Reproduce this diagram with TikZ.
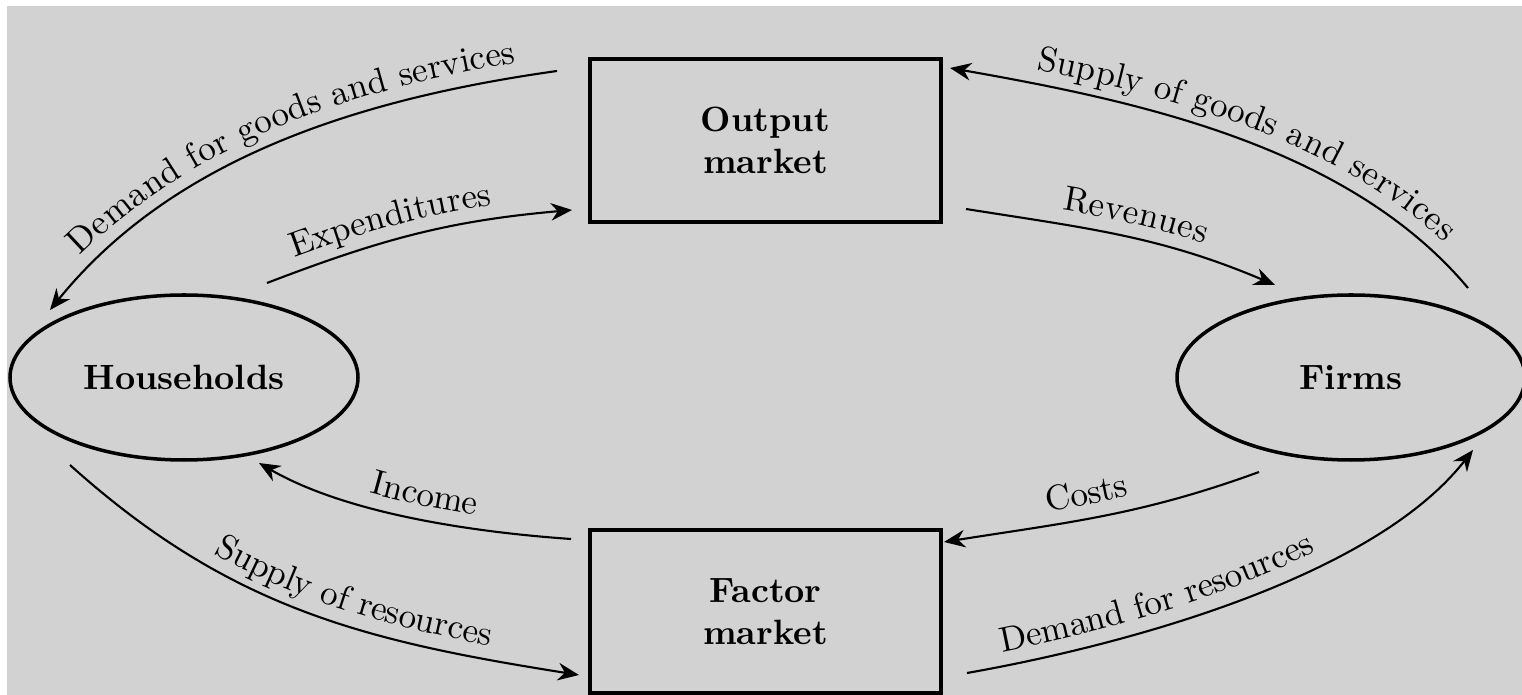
\documentclass[tikz,border=0pt]{standalone}
\usetikzlibrary{shapes,arrows.meta,decorations.text}

\definecolor{panel}{RGB}{210,210,210}

\tikzset{
  market/.style={rectangle, draw, line width=1.1pt, minimum width=35.1mm, minimum height=16.3mm, align=center, font=\bfseries},
  sector/.style={ellipse, draw, line width=1pt, minimum width=34.8mm, minimum height=16.5mm, inner sep=0pt, font=\bfseries},
  flow/.style={line width=0.6pt},
  flowtext/.style 2 args={postaction={decorate, decoration={text along path, raise=4pt, text align={left indent=#1}, text={#2}}}}
}

\begin{document}
\begin{tikzpicture}[x=0.1mm, y=0.1mm, >={Stealth[length=6pt,width=5pt]}]
\clip (0,0) rectangle (1522,695);
\fill[panel] (7,0) rectangle (1522,689);

\node[market] (out) at (765.5,554.5) {Output\\market};
\node[market] (fac) at (765.5,83.5) {Factor\\market};
\node[sector] (hh) at (184,317.5) {Households};
\node[sector] (firm) at (1351,317.5) {Firms};

% ends of the flows
\coordinate (dg1) at (50,385);   \coordinate (dg2) at (557,624);
\coordinate (ex1) at (267,412);  \coordinate (ex2) at (572,485);
\coordinate (sg1) at (950,627);  \coordinate (sg2) at (1468,407);
\coordinate (rv1) at (966,486);  \coordinate (rv2) at (1275,410);
\coordinate (in1) at (259,232);  \coordinate (in2) at (571,156);
\coordinate (sr1) at (70,230);   \coordinate (sr2) at (579,20);
\coordinate (co1) at (944,153);  \coordinate (co2) at (1259,223);
\coordinate (dr1) at (967,22);   \coordinate (dr2) at (1473,245);

% outer loop
\draw[flow, <-, flowtext={5.9mm}{Demand for goods and services}] (dg1) to[out=51, in=188, looseness=0.9] (dg2);
\draw[flow, <-, flowtext={8.5mm}{Supply of goods and services}] (sg1) to[out=-10, in=130, looseness=0.85] (sg2);
\draw[flow, ->, flowtext={17mm}{Supply of resources}] (sr1) to[out=-42, in=171] (sr2);
\draw[flow, ->, flowtext={3.9mm}{Demand for resources}] (dr1) to[out=10, in=232, looseness=0.75] (dr2);

% inner loop
\draw[flow, ->, flowtext={3.4mm}{Expenditures}] (ex1) to[out=21, in=185] (ex2);
\draw[flow, ->, flowtext={9.5mm}{Revenues}] (rv1) to[out=-9, in=157] (rv2);
\draw[flow, <-, flowtext={11.6mm}{Income}] (in1) to[out=-30, in=176, looseness=0.8] (in2);
\draw[flow, <-, flowtext={10.7mm}{Costs}] (co1) to[out=9, in=200] (co2);
\end{tikzpicture}
\end{document}
